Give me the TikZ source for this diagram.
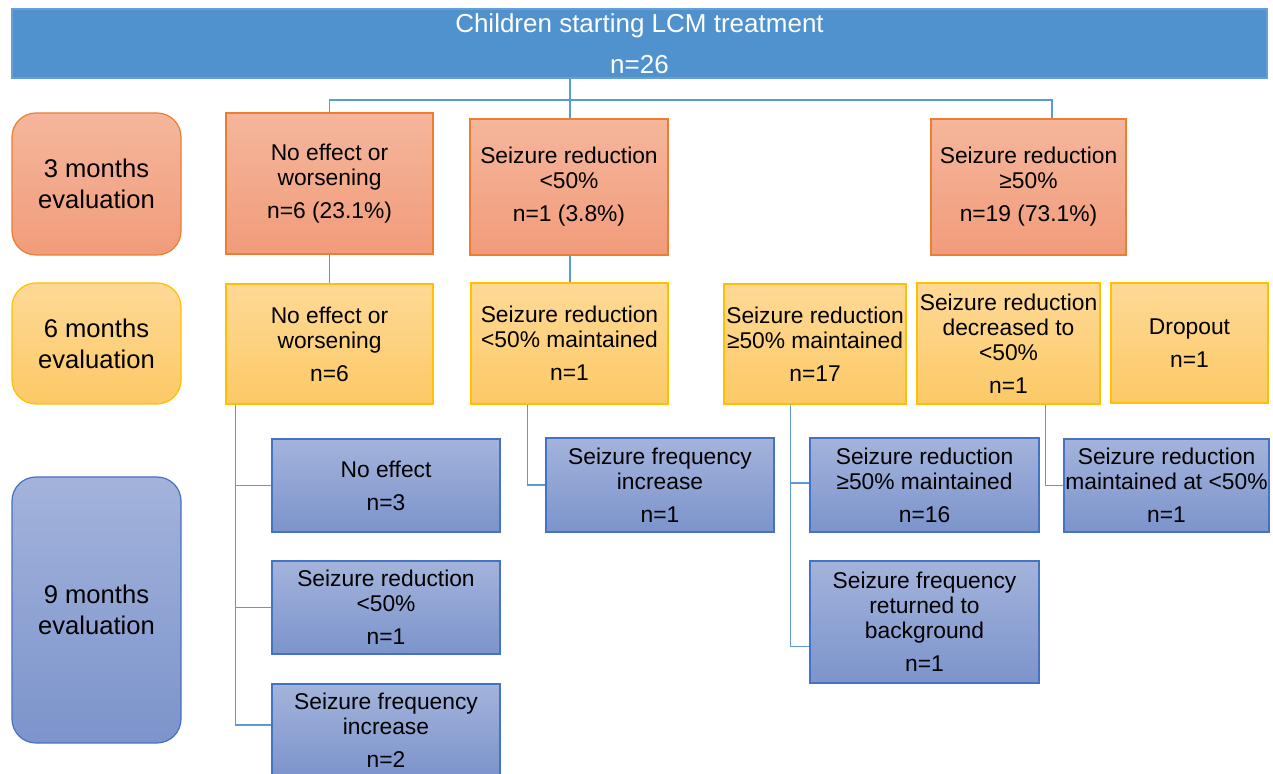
\documentclass[tikz,border=0pt]{standalone}
\usepackage{fontspec}
\setmainfont{Liberation Sans}
\definecolor{topblue}{RGB}{80,146,206}
\definecolor{topline}{RGB}{100,160,215}
\definecolor{linkblue}{RGB}{91,155,213}
\definecolor{orangetop}{RGB}{245,182,156}
\definecolor{orangebot}{RGB}{241,156,122}
\definecolor{orangeline}{RGB}{237,125,49}
\definecolor{yellowtop}{RGB}{254,217,150}
\definecolor{yellowbot}{RGB}{252,201,102}
\definecolor{yellowline}{RGB}{255,192,0}
\definecolor{bluetop}{RGB}{163,179,219}
\definecolor{bluebot}{RGB}{124,148,204}
\definecolor{blueline}{RGB}{68,114,196}

\tikzset{
	box/.style={rectangle, inner sep=0pt, align=center, line width=0.6pt, font=\fontsize{11.4}{12.5}\selectfont},
	wh/.style n args={2}{minimum width=#1*0.5pt, minimum height=#2*0.5pt},
	mthree/.style={box, draw=orangeline, top color=orangetop, bottom color=orangebot},
	msix/.style={box, draw=yellowline, top color=yellowtop, bottom color=yellowbot},
	mnine/.style={box, draw=blueline, top color=bluetop, bottom color=bluebot},
	lab/.style={rounded corners=12pt, font=\fontsize{12.8}{15.5}\selectfont},
	link/.style={draw=linkblue, line width=0.6pt}
}

\begin{document}
\begin{tikzpicture}[x=0.5pt,y=-0.5pt]
			\clip (0,0) rectangle (1273,774);

			\node[box, draw=topline, fill=topblue, text=white, font=\fontsize{13}{20.5}\selectfont, wh={1255}{69}] (top) at (639.5,43.5) {Children starting LCM treatment\\n=26};

			\node[mthree, lab, wh={169}{142}] (L3) at (96.5,184) {3 months\\evaluation};
			\node[msix, lab, wh={169}{121}] (L6) at (96.5,343.5) {6 months\\evaluation};
			\node[mnine, lab, wh={169}{266}] (L9) at (96.5,610) {9 months\\evaluation};

			\node[mthree, wh={207}{141}] (A3) at (329.5,183.5) {No effect or\\worsening\\[4pt]n=6 (23.1\%)};
			\node[mthree, wh={198}{136}] (B3) at (569,187) {Seizure reduction\\<50\%\\[4pt]n=1 (3.8\%)};
			\node[mthree, wh={195}{136}] (C3) at (1028.5,187) {Seizure reduction\\≥50\%\\[4pt]n=19 (73.1\%)};

			\node[msix, wh={207}{120}] (A6) at (329.5,344) {No effect or\\worsening\\[4pt]n=6};
			\node[msix, wh={197}{121}] (B6) at (569.5,343.5) {Seizure reduction\\<50\% maintained\\[4pt]n=1};
			\node[msix, wh={182}{120}] (D6) at (815,344) {Seizure reduction\\≥50\% maintained\\[4pt]n=17};
			\node[msix, wh={183}{121}] (E6) at (1008.5,343.5) {Seizure reduction\\decreased to\\<50\%\\[4pt]n=1};
			\node[msix, wh={157}{120}] (F6) at (1189.5,343) {Dropout\\[4pt]n=1};

			\node[mnine, wh={228}{93}] (A9a) at (386,485.5) {No effect\\[4pt]n=3};
			\node[mnine, wh={228}{93}] (A9b) at (386,607.5) {Seizure reduction\\<50\%\\[4pt]n=1};
			\node[mnine, wh={228}{93}] (A9c) at (386,730.5) {Seizure frequency\\increase\\[4pt]n=2};
			\node[mnine, wh={228}{94}] (B9) at (660,485) {Seizure frequency\\increase\\[4pt]n=1};
			\node[mnine, wh={229}{94}] (D9a) at (924.5,485) {Seizure reduction\\≥50\% maintained\\[4pt]n=16};
			\node[mnine, wh={229}{122}] (D9b) at (924.5,622) {Seizure frequency\\returned to\\background\\[4pt]n=1};
			\node[mnine, wh={205}{93}] (E9) at (1166.5,485.5) {Seizure reduction\\maintained at <50\%\\[4pt]n=1};

			\coordinate (hub) at (570,100);
			\coordinate (a6s) at ([xshift=5pt]A6.south west);
			\coordinate (b6s) at ([xshift=28.5pt]B6.south west);
			\coordinate (d6s) at ([xshift=33.5pt]D6.south west);
			\coordinate (e6s) at ([xshift=64.5pt]E6.south west);

			\draw[link] (top.south -| hub) -- (hub);
			\draw[link] (A3.north) |- (hub) -| ([xshift=11.75pt]C3.north);
			\draw[link] (hub) -- (B3.north -| hub);
			\draw[link] (A3.south) -- (A6.north);
			\draw[link] (B3.south -| hub) -- (B6.north -| hub);
			\draw[link] (a6s) |- (A9a.west);
			\draw[link] (a6s) |- (A9b.west);
			\draw[link] (a6s) |- ([yshift=2.75pt]A9c.west);
			\draw[link] (b6s) |- (B9.west);
			\draw[link] (d6s) |- ([yshift=1pt]D9a.west);
			\draw[link] (d6s) |- ([yshift=18.5pt]D9b.south west);
			\draw[link] (e6s) |- (E9.west);
		\end{tikzpicture}
\end{document}
